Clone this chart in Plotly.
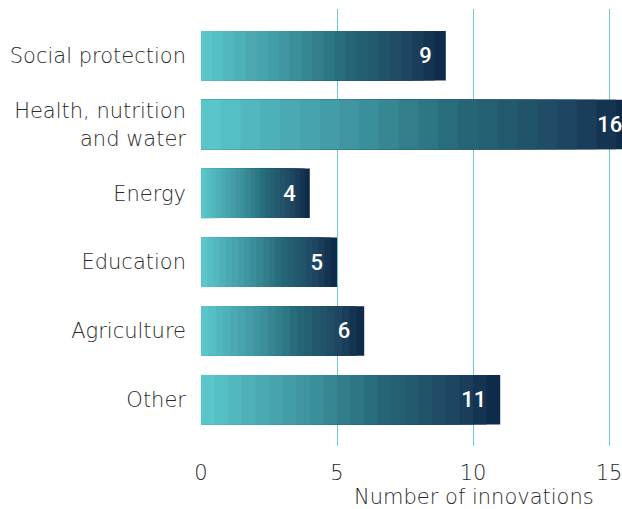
import plotly.graph_objects as go

categories = ["Social protection", "Health, nutrition<br>and water", "Energy", "Education", "Agriculture", "Other"]
values = [9, 16, 4, 5, 6, 11]
x_ticks = [0, 5, 10, 15]
x_title = "Number of innovations"

# gradient stops (position, rgb)
stops = [(0.0, (92, 201, 204)), (0.4, (58, 141, 152)), (0.6, (37, 103, 119)),
         (0.85, (31, 69, 96)), (1.0, (11, 38, 70))]
N = 22


def interp(t):
    for (p0, c0), (p1, c1) in zip(stops[:-1], stops[1:]):
        if p0 <= t <= p1:
            f = (t - p0) / (p1 - p0)
            return "rgb(%d,%d,%d)" % tuple(round(a + (b - a) * f) for a, b in zip(c0, c1))
    return "rgb(%d,%d,%d)" % stops[-1][1]


fig = go.Figure()
# draw from full length to shortest so bands overlap without seams
for j in range(N, 0, -1):
    fig.add_trace(go.Bar(
        y=categories,
        x=[v * j / N for v in values],
        orientation="h",
        marker=dict(color=interp((j - 0.5) / N), line=dict(width=0)),
        width=0.72,
        hoverinfo="skip",
        showlegend=False,
    ))

# transparent full-length bar carrying the value labels
fig.add_trace(go.Bar(
    y=categories,
    x=values,
    orientation="h",
    marker=dict(color="rgba(0,0,0,0)", line=dict(width=0)),
    width=0.72,
    text=[f"{v}\u00a0\u00a0" for v in values],
    textposition="inside",
    insidetextanchor="end",
    constraintext="none",
    insidetextfont=dict(family="Roboto", size=22, color="white", weight=500),
    hoverinfo="skip",
    showlegend=False,
))

font_light = dict(family="DejaVu Sans", size=21, color="#2a2a2a", weight=200)

fig.add_annotation(x=(596 - 201) / 421, y=-0.116, xref="paper", yref="paper",
                   text=x_title, showarrow=False, xanchor="right", yanchor="middle",
                   font=font_light)

fig.update_layout(
    width=622, height=509,
    margin=dict(l=201, r=0, t=9, b=63),
    barmode="overlay",
    plot_bgcolor="white", paper_bgcolor="white",
    font=font_light,
)
fig.update_xaxes(range=[0, 421 / 27.2], tickvals=x_ticks, showgrid=True,
                 gridcolor="#6ec8cc", gridwidth=1, zeroline=False, showline=False,
                 ticks="", tickfont=font_light, ticklabelstandoff=12,
                 ticklabeloverflow="allow")
fig.update_yaxes(categoryorder="array", categoryarray=categories,
                 range=[5.5 + 12 / 69, -0.5 - 12.5 / 69], showgrid=False,
                 zeroline=False, showline=False, ticks="", tickfont=font_light,
                 ticklabelstandoff=14)

fig.write_html("out.html")
